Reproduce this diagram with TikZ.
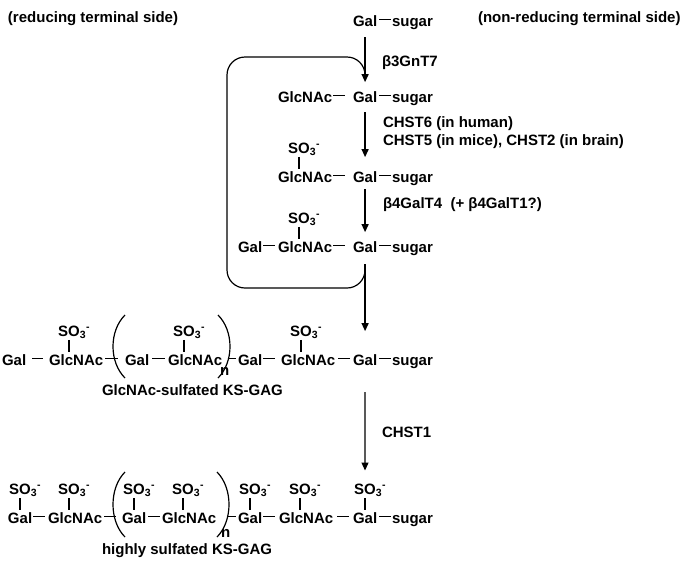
\documentclass[tikz,border=0pt]{standalone}
\usepackage{fontspec}
\setmainfont{Liberation Sans}
\usetikzlibrary{arrows.meta}
\newcommand{\sothree}{SO\rlap{\textsubscript{3}\textsuperscript{-}}}
\newcommand{\mybond}[4]{\draw[bondl, shorten <=#3pt, shorten >=#4pt] ([yshift=6.5pt]#1.base east) -- ([yshift=6.5pt]#2.base west);}
\newcommand{\mytick}[2]{\draw[tickl, shorten <=1.5pt, shorten >=2.5pt] (#1.south) -- (#1.south |- #2.north);}
\begin{document}
\begin{tikzpicture}[x=1pt,y=-1pt,
  every node/.style={inner sep=0pt, outer sep=0pt, font=\fontsize{15}{18}\selectfont\bfseries},
  sug/.style={anchor=base west},
  lab/.style={anchor=base west},
  so/.style={anchor=base},
  bondl/.style={line width=1.5pt},
  tickl/.style={line width=1.2pt},
  parl/.style={line width=1.2pt},
  arr/.style={line width=1.2pt, -{Triangle[length=8pt,width=7pt]}},
]
\useasboundingbox (0,0) rectangle (700,568);

% labels
\node[lab] (lred) at (8,22) {(reducing terminal side)};
\node[lab] (lnon) at (478,22) {(non-reducing terminal side)};
\node[lab] (e1) at (382,66) {β3GnT7};
\node[lab] (e2) at (383,127) {CHST6 (in human)};
\node[lab] (e2b) at (383,145) {CHST5 (in mice), CHST2 (in brain)};
\node[lab] (e3) at (383,208) {β4GalT4\ \ (+ β4GalT1?)};
\node[lab] (e4) at (382,437) {CHST1};
\node[lab] (k1) at (102,395) {GlcNAc-sulfated KS-GAG};
\node[lab] (k2) at (102,554) {highly sulfated KS-GAG};

% row 1
\node[sug] (r1g) at (353,26) {Gal};
\node[sug] (r1s) at (392,26) {sugar};
\mybond{r1g}{r1s}{2}{1}

% row 2
\node[sug] (r2n) at (278,102) {GlcNAc};
\node[sug] (r2g) at (353,102) {Gal};
\node[sug] (r2s) at (392,102) {sugar};
\mybond{r2n}{r2g}{1}{8}
\mybond{r2g}{r2s}{2}{1}

% row 3
\node[sug] (r3n) at (278,182) {GlcNAc};
\node[sug] (r3g) at (353,182) {Gal};
\node[sug] (r3s) at (392,182) {sugar};
\node[so] (r3o) at (299,153) {\sothree};
\mybond{r3n}{r3g}{1}{8}
\mybond{r3g}{r3s}{2}{1}
\mytick{r3o}{r3n}

% row 4
\node[sug] (r4a) at (238,252) {Gal};
\node[sug] (r4n) at (278,252) {GlcNAc};
\node[sug] (r4g) at (353,252) {Gal};
\node[sug] (r4s) at (392,252) {sugar};
\node[so] (r4o) at (299,223) {\sothree};
\mybond{r4a}{r4n}{1}{3}
\mybond{r4n}{r4g}{1}{8}
\mybond{r4g}{r4s}{2}{1}
\mytick{r4o}{r4n}

% row 5
\node[sug] (r5a) at (2,365) {Gal};
\node[sug] (r5b) at (49,365) {GlcNAc};
\node[sug] (r5c) at (125,365) {Gal};
\node[sug] (r5d) at (168,365) {GlcNAc};
\node[sug] (r5e) at (238,365) {Gal};
\node[sug] (r5f) at (281,365) {GlcNAc};
\node[sug] (r5g) at (353,365) {Gal};
\node[sug] (r5s) at (392,365) {sugar};
\node[so] (r5ob) at (69,336) {\sothree};
\node[so] (r5od) at (184,336) {\sothree};
\node[so] (r5of) at (301,336) {\sothree};
\node[sug] (r5n) at (220,375) {n};
\mybond{r5a}{r5b}{6}{6}
\mybond{r5b}{r5c}{2}{7}
\mybond{r5c}{r5d}{3}{3}
\mybond{r5d}{r5e}{5.5}{2}
\mybond{r5e}{r5f}{1}{6}
\mybond{r5f}{r5g}{3}{3}
\mybond{r5g}{r5s}{2}{1}
\mytick{r5ob}{r5b}
\mytick{r5od}{r5d}
\mytick{r5of}{r5f}
\coordinate (p5lt) at (125,315);
\coordinate (p5lb) at (125,378);
\coordinate (p5rt) at (218,315);
\coordinate (p5rb) at (218,378);
\draw[parl] (p5lt) .. controls (109,331) and (109,362) .. (p5lb);
\draw[parl] (p5rt) .. controls (234,331) and (234,362) .. (p5rb);

% row 6
\node[sug] (r6a) at (8,523) {Gal};
\node[sug] (r6b) at (48,523) {GlcNAc};
\node[sug] (r6c) at (122,523) {Gal};
\node[sug] (r6d) at (162,523) {GlcNAc};
\node[sug] (r6e) at (238,523) {Gal};
\node[sug] (r6f) at (279,523) {GlcNAc};
\node[sug] (r6g) at (353,523) {Gal};
\node[sug] (r6s) at (392,523) {sugar};
\node[so] (r6oa) at (20,494) {\sothree};
\node[so] (r6ob) at (69,494) {\sothree};
\node[so] (r6oc) at (134,494) {\sothree};
\node[so] (r6od) at (183,494) {\sothree};
\node[so] (r6oe) at (250,494) {\sothree};
\node[so] (r6of) at (300,494) {\sothree};
\node[so] (r6og) at (365,494) {\sothree};
\node[sug] (r6n) at (221,537) {n};
\mybond{r6a}{r6b}{1}{3}
\mybond{r6b}{r6c}{2}{6}
\mybond{r6c}{r6d}{2}{2}
\mybond{r6d}{r6e}{11.5}{2}
\mybond{r6e}{r6f}{1}{4}
\mybond{r6f}{r6g}{4}{4}
\mybond{r6g}{r6s}{2}{1}
\mytick{r6oa}{r6a}
\mytick{r6ob}{r6b}
\mytick{r6oc}{r6c}
\mytick{r6od}{r6d}
\mytick{r6oe}{r6e}
\mytick{r6of}{r6f}
\mytick{r6og}{r6g}
\coordinate (p6lt) at (125,472);
\coordinate (p6lb) at (125,537);
\coordinate (p6rt) at (217,472);
\coordinate (p6rb) at (217,537);
\draw[parl] (p6lt) .. controls (109,488) and (109,521) .. (p6lb);
\draw[parl] (p6rt) .. controls (233,488) and (233,521) .. (p6rb);

% arrows
\draw[arr, shorten <=11pt, shorten >=9pt] (r1g.south) -- (r2g.north);
\draw[arr, shorten <=10pt, shorten >=14pt] (r2g.south) -- (r3g.north);
\draw[arr, shorten <=7pt, shorten >=9pt] (r3g.south) -- (r4g.north);
\draw[arr, shorten <=12pt, shorten >=23pt] (r4g.south) -- (r5g.north);
\draw[arr, shorten <=27pt, shorten >=13pt] (r5g.south) -- (r6og.north);

% loop
\coordinate (lp1) at (365,78);
\coordinate (lpTL) at (227,57);
\coordinate (lpBL) at (227,288);
\coordinate (lp2) at (365,268);
\draw[line width=1.2pt, rounded corners=18pt] (lp1) |- (lpTL) -- (lpBL) -| (lp2);
\end{tikzpicture}
\end{document}
